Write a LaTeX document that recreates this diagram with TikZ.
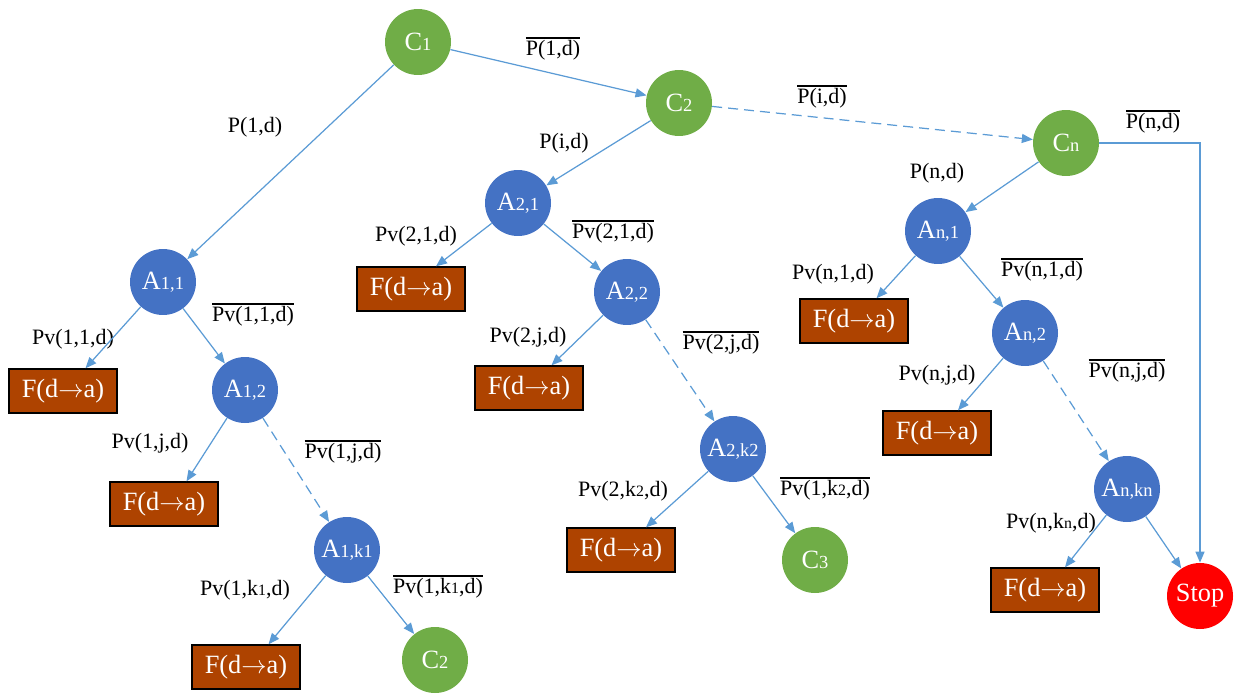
\documentclass[tikz,border=0pt]{standalone}
\usepackage{fontspec}
\setmainfont{Liberation Serif}
\usetikzlibrary{arrows.meta}

\definecolor{cgreen}{HTML}{70AD47}
\definecolor{cblue}{HTML}{4472C4}
\definecolor{cred}{HTML}{FF0000}
\definecolor{cbrown}{HTML}{AE4300}
\definecolor{carrow}{HTML}{5B9BD5}

\newcommand{\nodefont}{\fontsize{15}{18}\selectfont}
\newcommand{\lblfont}{\fontsize{12.5}{15}\selectfont}
\newcommand{\idx}[1]{{\fontsize{10.5}{12}\selectfont #1}}
\newcommand{\lidx}[1]{{\fontsize{9}{11}\selectfont #1}}
\newcommand{\ovl}[1]{\vbox{\hrule height 0.7pt\kern 1.2pt\hbox{#1}}}
\newcommand{\fda}{F(d$\rightarrow$a)}

\begin{document}
\begin{tikzpicture}[
  x=0.02cm, y=-0.02cm,
  cnode/.style={circle, fill=cgreen, minimum size=1.32cm, inner sep=0pt,
    text=white, font=\nodefont},
  anode/.style={cnode, fill=cblue},
  stopnode/.style={cnode, fill=cred},
  fbox/.style={draw, line width=0.8pt, fill=cbrown, text=white,
    minimum width=2.16cm, minimum height=0.88cm, inner sep=0pt, font=\nodefont},
  lbl/.style={font=\lblfont, inner sep=1pt},
  arrow/.style={-{Triangle[length=2.2mm, width=1.8mm]}, draw=carrow, line width=0.7pt},
  dashedarrow/.style={arrow, dash pattern=on 2mm off 1.2mm}
]
\useasboundingbox (0,0) rectangle (1236,693);

% checks
\node[cnode] (c1) at (418,42) {C\idx{1}};
\node[cnode] (c2) at (679,103) {C\idx{2}};
\node[cnode] (cn) at (1066,143) {C\idx{n}};

% branch 1
\node[anode] (a11) at (163,282) {A\idx{1,1}};
\node[anode] (a12) at (245,390) {A\idx{1,2}};
\node[anode] (a1k) at (347,550) {A\idx{1,k1}};
\node[cnode] (c2b) at (435,660) {C\idx{2}};
\node[fbox] (f11) at (63,391) {\fda};
\node[fbox] (f12) at (164,504) {\fda};
\node[fbox] (f1k) at (246,667) {\fda};

% branch 2
\node[anode] (a21) at (518,203) {A\idx{2,1}};
\node[anode] (a22) at (627,292) {A\idx{2,2}};
\node[anode] (a2k) at (733,449) {A\idx{2,k2}};
\node[cnode] (c3) at (815,560) {C\idx{3}};
\node[fbox] (f21) at (411,289) {\fda};
\node[fbox] (f22) at (529,388) {\fda};
\node[fbox] (f2k) at (621,550) {\fda};

% branch n
\node[anode] (an1) at (938,231) {A\idx{n,1}};
\node[anode] (an2) at (1025,333) {A\idx{n,2}};
\node[anode] (ank) at (1127,489) {A\idx{n,kn}};
\node[stopnode] (stop) at (1200,596) {Stop};
\node[fbox] (fn1) at (854,321) {\fda};
\node[fbox] (fn2) at (937,433) {\fda};
\node[fbox] (fnk) at (1045,590) {\fda};

% labels
\node[lbl] (l1) at (255,127) {P(1,d)};
\node[lbl] (l2) at (553,49) {\ovl{P(1,d)}};
\node[lbl] (l3) at (564,143) {P(i,d)};
\node[lbl] (l4) at (822,97) {\ovl{P(i,d)}};
\node[lbl] (l5) at (1153,122) {\ovl{P(n,d)}};
\node[lbl] (l6) at (937,173) {P(n,d)};
\node[lbl] (l7) at (73,339) {Pv(1,1,d)};
\node[lbl] (l8) at (253,315) {\ovl{Pv(1,1,d)}};
\node[lbl] (l9) at (150,443) {Pv(1,j,d)};
\node[lbl] (l10) at (343,452) {\ovl{Pv(1,j,d)}};
\node[lbl] (l11) at (245,590) {Pv(1,k\lidx{1},d)};
\node[lbl] (l12) at (438,587) {\ovl{Pv(1,k\lidx{1},d)}};
\node[lbl] (l13) at (416,236) {Pv(2,1,d)};
\node[lbl] (l14) at (613,232) {\ovl{Pv(2,1,d)}};
\node[lbl] (l15) at (528,337) {Pv(2,j,d)};
\node[lbl] (l16) at (721,343) {\ovl{Pv(2,j,d)}};
\node[lbl] (l17) at (623,491) {Pv(2,k\lidx{2},d)};
\node[lbl] (l18) at (825,489) {\ovl{Pv(1,k\lidx{2},d)}};
\node[lbl] (l19) at (833,274) {Pv(n,1,d)};
\node[lbl] (l20) at (1042,270) {\ovl{Pv(n,1,d)}};
\node[lbl] (l21) at (937,375) {Pv(n,j,d)};
\node[lbl] (l22) at (1127,371) {\ovl{Pv(n,j,d)}};
\node[lbl] (l23) at (1051,523) {Pv(n,k\lidx{n},d)};

% connectors
\draw[arrow] (c1) -- (c2);
\draw[arrow] (c1) -- (a11);
\draw[dashedarrow] (c2) -- (cn);
\draw[arrow] (c2) -- (a21);
\draw[arrow] (cn) -- (an1);
\draw[arrow] (cn.east) -| (stop.north);

\draw[arrow] (a11) -- ([xshift=0.45cm]f11.north);
\draw[arrow] (a11) -- (a12);
\draw[arrow] (a12) -- ([xshift=0.45cm]f12.north);
\draw[dashedarrow] (a12) -- (a1k);
\draw[arrow] (a1k) -- ([xshift=0.45cm]f1k.north);
\draw[arrow] (a1k) -- (c2b);

\draw[arrow] (a21) -- ([xshift=0.5cm]f21.north);
\draw[arrow] (a21) -- (a22);
\draw[arrow] (a22) -- ([xshift=0.45cm]f22.north);
\draw[dashedarrow] (a22) -- (a2k);
\draw[arrow] (a2k) -- ([xshift=0.5cm]f2k.north);
\draw[arrow] (a2k) -- (c3);

\draw[arrow] (an1) -- ([xshift=0.45cm]fn1.north);
\draw[arrow] (an1) -- (an2);
\draw[arrow] (an2) -- ([xshift=0.42cm]fn2.north);
\draw[dashedarrow] (an2) -- (ank);
\draw[arrow] (ank) -- ([xshift=0.4cm]fnk.north);
\draw[arrow] (ank) -- (stop);
\end{tikzpicture}
\end{document}
